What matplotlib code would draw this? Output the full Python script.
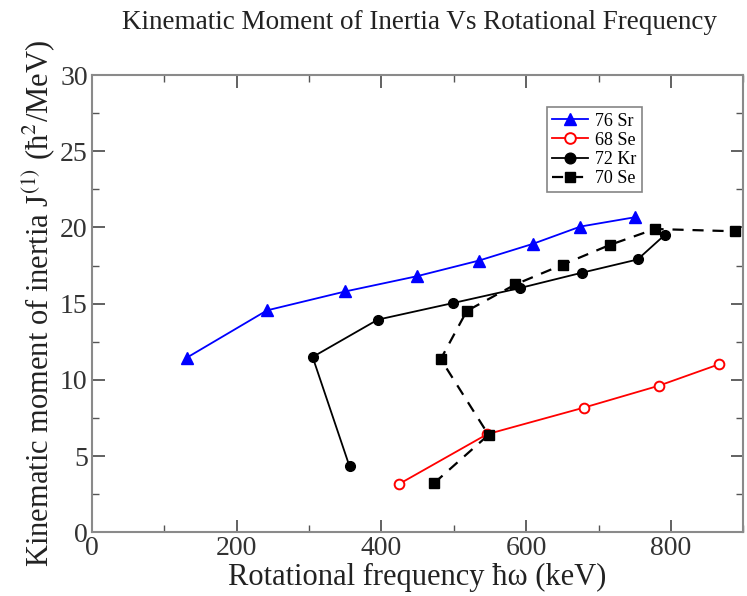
import matplotlib
matplotlib.use("Agg")
import matplotlib.pyplot as plt
from matplotlib.ticker import MultipleLocator

plt.rcParams["font.family"] = ["Liberation Serif", "DejaVu Serif"]
plt.rcParams["mathtext.fontset"] = "stix"

# Rotational frequency (keV) and kinematic moment of inertia J(1) (hbar^2/MeV)
sr76_x = [131, 242, 350, 449, 535, 609, 675, 750]
sr76_y = [11.45, 14.56, 15.8, 16.8, 17.83, 18.92, 20.06, 20.67]

se68_x = [425, 546, 680, 783, 867]
se68_y = [3.18, 6.43, 8.18, 9.61, 11.03]

kr72_x = [356, 305, 395, 499, 591, 677, 754, 792]
kr72_y = [4.32, 11.5, 13.95, 15.04, 16.02, 17.03, 17.9, 19.53]

se70_x = [473, 548, 482, 518, 585, 651, 716, 778, 888]
se70_y = [3.23, 6.39, 11.36, 14.52, 16.26, 17.57, 18.86, 19.9, 19.75]

labels = ["76 Sr", "68 Se", "72 Kr", "70 Se"]

fig = plt.figure(figsize=(7.47, 5.96), dpi=100)
ax = fig.add_axes([0.123, 0.107, 0.872, 0.767])

ax.plot(sr76_x, sr76_y, color="#0000ff", lw=1.3, marker="^", ms=8,
        label=labels[0])
ax.plot(se68_x, se68_y, color="#ff0000", lw=1.3, marker="o", ms=7,
        mfc="white", mec="#ff0000", mew=1.4, label=labels[1])
ax.plot(kr72_x, kr72_y, color="black", lw=1.3, marker="o", ms=7,
        label=labels[2])
ax.plot(se70_x, se70_y, color="black", lw=1.6, ls=(0, (5, 4)), marker="s",
        ms=7, label=labels[3], clip_on=False)

ax.set_xlim(0, 900)
ax.set_ylim(0, 30)
ax.xaxis.set_major_locator(MultipleLocator(200))
ax.xaxis.set_minor_locator(MultipleLocator(100))
ax.yaxis.set_major_locator(MultipleLocator(5))
ax.yaxis.set_minor_locator(MultipleLocator(2.5))
ax.tick_params(which="both", direction="in", top=True, right=True,
               colors="#555555", labelcolor="#333333")
ax.tick_params(which="major", length=9, width=1.3, labelsize=20, pad=3)
ax.tick_params(which="minor", length=5, width=1.0)
for sp in ax.spines.values():
    sp.set_color("#8a8a8a")
    sp.set_linewidth(1.5)

ax.set_xlabel("Rotational frequency ħω (keV)", fontsize=22,
              color="#222222", labelpad=1)
ax.set_ylabel("Kinematic moment of inertia J$^{(1)}$ (ħ$^{2}$/MeV)",
              fontsize=22, color="#222222", labelpad=2)
fig.text(0.561, 0.963, "Kinematic Moment of Inertia Vs Rotational Frequency",
         ha="center", va="center", fontsize=19.5, color="#222222")

leg = ax.legend(loc="upper left", bbox_to_anchor=(0.698, 0.93),
                fontsize=13, frameon=True, fancybox=False,
                handlelength=2.0, borderpad=0.3, labelspacing=0.12,
                handletextpad=0.4, borderaxespad=0, markerscale=1.1)
leg.get_frame().set_edgecolor("#666666")
leg.get_frame().set_linewidth(1.2)

fig.savefig("out.png", dpi=100)
